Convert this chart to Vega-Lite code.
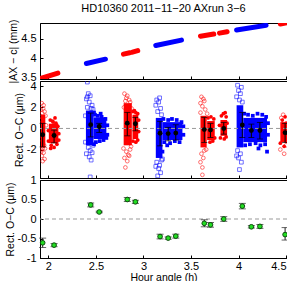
{
  "$schema": "https://vega.github.io/schema/vega-lite/v6.json",
  "padding": {"left": 4, "top": 2, "right": 2, "bottom": 1},
  "spacing": 2,
  "bounds": "flush",
  "config": {
    "font": "Liberation Sans",
    "view": {"stroke": "#000", "strokeWidth": 1},
    "axis": {"labelFont": "Liberation Sans", "labelFontSize": 11, "labelColor": "#000", "titleFont": "Liberation Sans", "titleFontSize": 10.5, "titleFontWeight": "normal", "titleColor": "#000", "titlePadding": 2, "domainColor": "#000", "tickColor": "#000", "tickSize": -3, "labelPadding": 7, "grid": false, "labelOverlap": false, "labelSeparation": -100},
    "title": {"font": "Liberation Sans", "fontSize": 11, "fontWeight": "normal", "color": "#000"}
  },
  "datasets": {
    "seg": [
      {"s": 1, "g": "R", "x": 1.915, "y": 3.47}, {"s": 1, "g": "R", "x": 2.1, "y": 3.61},
      {"s": 2, "g": "B", "x": 2.4, "y": 3.86}, {"s": 2, "g": "B", "x": 2.6, "y": 3.97},
      {"s": 3, "g": "R", "x": 2.79, "y": 4.1}, {"s": 3, "g": "R", "x": 2.855, "y": 4.135},
      {"s": 4, "g": "R", "x": 2.885, "y": 4.15}, {"s": 4, "g": "R", "x": 2.94, "y": 4.19},
      {"s": 5, "g": "B", "x": 3.13, "y": 4.32}, {"s": 5, "g": "B", "x": 3.4, "y": 4.46},
      {"s": 6, "g": "R", "x": 3.6, "y": 4.56}, {"s": 6, "g": "R", "x": 3.74, "y": 4.615},
      {"s": 7, "g": "R", "x": 3.8, "y": 4.64}, {"s": 7, "g": "R", "x": 3.88, "y": 4.675},
      {"s": 8, "g": "B", "x": 3.98, "y": 4.72}, {"s": 8, "g": "B", "x": 4.29, "y": 4.84},
      {"s": 9, "g": "R", "x": 4.44, "y": 4.875}, {"s": 9, "g": "R", "x": 4.52, "y": 4.91}
    ],
    "core": [
      {"g": "R", "x": 1.922, "x2": 1.968, "y": -1.8, "y2": 1.3},
      {"g": "R", "x": 2.005, "x2": 2.105, "y": -1.4, "y2": 0.45},
      {"g": "B", "x": 2.395, "x2": 2.475, "y": -1.6, "y2": 1.7},
      {"g": "B", "x": 2.475, "x2": 2.61, "y": -1.0, "y2": 1.05},
      {"g": "R", "x": 2.792, "x2": 2.878, "y": -1.6, "y2": 2.4},
      {"g": "R", "x": 2.885, "x2": 2.945, "y": -1.0, "y2": 1.3},
      {"g": "B", "x": 3.13, "x2": 3.2, "y": -2.8, "y2": 1.0},
      {"g": "B", "x": 3.2, "x2": 3.41, "y": -1.1, "y2": 0.6},
      {"g": "R", "x": 3.6, "x2": 3.665, "y": -1.8, "y2": 1.2},
      {"g": "R", "x": 3.67, "x2": 3.75, "y": -1.1, "y2": 0.7},
      {"g": "R", "x": 3.81, "x2": 3.88, "y": -0.7, "y2": 0.8},
      {"g": "B", "x": 3.98, "x2": 4.05, "y": -1.8, "y2": 2.2},
      {"g": "B", "x": 4.05, "x2": 4.3, "y": -1.3, "y2": 1.0},
      {"g": "R", "x": 4.44, "x2": 4.51, "y": -1.3, "y2": 0.6}
    ],
    "pts": [
      {"g": "R", "f": "o", "x": [1.93, 1.95, 1.92, 1.96, 1.935, 1.97, 1.92, 1.95, 1.93, 1.96, 1.925, 1.965, 1.94, 1.975, 1.918, 1.918, 1.945, 1.93, 1.955, 1.94], "y": [2.4, 2.2, 1.8, 1.6, 1.45, 1.2, -2.0, -2.3, -2.6, -2.9, -2.2, -1.9, -3.1, 0.3, 0.8, -1.0, 1.9, 1.1, -1.6, -1.9]},
      {"g": "R", "f": "f", "x": [2.02, 2.05, 2.08, 2.1, 2.11, 2.0, 2.03, 2.06, 2.09, 2.0, 2.11, 2.045, 2.07, 2.025], "y": [0.8, 0.6, 0.5, 0.2, -0.5, -0.2, -1.6, -1.8, -1.5, -1.2, -1.1, 0.7, 1.0, -1.9]},
      {"g": "B", "f": "o", "x": [2.41, 2.42, 2.44, 2.4, 2.43, 2.46, 2.41, 2.45, 2.42, 2.44, 2.4, 2.43, 2.46, 2.44, 2.47, 2.39, 2.39, 2.41, 2.45, 2.47], "y": [4.4, 3.3, 3.1, 2.8, 2.5, 2.2, 2.0, 1.9, -1.8, -2.1, -2.4, -2.7, -2.3, -4.6, -1.6, -1.3, 1.2, 3.0, -3.0, 1.8]},
      {"g": "B", "f": "f", "x": [2.49, 2.52, 2.56, 2.6, 2.62, 2.62, 2.5, 2.54, 2.58, 2.61, 2.55, 2.48, 2.48], "y": [1.3, 1.2, 1.1, 0.9, 0.3, -0.6, -1.3, -1.2, -1.1, -0.9, 1.4, 1.5, -1.5]},
      {"g": "R", "f": "o", "x": [2.8, 2.83, 2.82, 2.85, 2.81, 2.86, 2.79, 2.82, 2.84, 2.8, 2.83, 2.86, 2.81, 2.87, 2.795, 2.875, 2.85], "y": [3.3, 3.1, 2.9, 2.7, 2.6, 2.5, -1.9, -2.2, -2.5, -2.8, -3.1, -2.0, -3.7, -1.7, 2.0, 1.9, -2.6]},
      {"g": "R", "f": "f", "x": [2.89, 2.92, 2.94, 2.95, 2.95, 2.89, 2.92, 2.94, 2.905], "y": [1.6, 1.5, 1.4, 0.8, -0.3, -1.2, -1.3, -1.1, 1.7]},
      {"g": "B", "f": "o", "x": [3.14, 3.16, 3.13, 3.18, 3.15, 3.19, 3.14, 3.17, 3.16, 3.18, 3.15, 3.19, 3.13, 3.17, 3.2], "y": [2.7, 2.5, 2.2, 1.9, 1.6, 1.3, -3.2, -3.5, -3.8, -4.2, -4.5, -3.0, -3.6, 2.9, -2.9]},
      {"g": "B", "f": "f", "x": [3.21, 3.26, 3.3, 3.35, 3.4, 3.42, 3.42, 3.22, 3.28, 3.33, 3.38, 3.25, 3.2], "y": [0.9, 0.8, 0.9, 0.8, 0.6, 0.2, -0.6, -1.3, -1.4, -1.2, -1.3, -1.6, -2.2]},
      {"g": "R", "f": "o", "x": [3.61, 3.63, 3.6, 3.62, 3.65, 3.6, 3.64, 3.61, 3.63, 3.6, 3.62, 3.66, 3.62, 3.64, 3.67], "y": [3.0, 2.8, 2.4, 2.1, 1.8, 1.5, -2.1, -2.4, -2.8, -3.2, -3.7, -2.0, -4.4, 2.6, 1.4]},
      {"g": "R", "f": "f", "x": [3.68, 3.71, 3.74, 3.75, 3.7, 3.73, 3.82, 3.84, 3.87, 3.88, 3.8, 3.81, 3.85, 3.87, 3.86], "y": [1.0, 1.1, 0.9, -0.9, -1.3, -1.2, 1.2, 1.4, 1.1, 0.5, 0.3, -0.9, -1.0, -0.8, 1.5]},
      {"g": "B", "f": "o", "x": [3.99, 4.0, 4.02, 3.98, 4.01, 4.04, 3.99, 4.02, 4.0, 4.03, 3.98, 4.01, 4.03], "y": [4.1, 3.6, 3.3, 3.0, 2.7, 2.5, -2.1, -2.4, -2.8, -3.2, -2.6, -3.9, 3.9]},
      {"g": "B", "f": "f", "x": [4.06, 4.1, 4.15, 4.2, 4.25, 4.29, 4.31, 4.31, 4.07, 4.12, 4.18, 4.23, 4.28, 4.3, 4.21], "y": [1.4, 1.3, 1.2, 1.4, 1.3, 1.1, 0.5, -0.6, -1.6, -1.5, -1.4, -1.6, -1.5, -2.2, -1.9]},
      {"g": "R", "f": "o", "x": [4.45, 4.47, 4.5, 4.44, 4.48], "y": [1.0, 1.3, -1.6, -2.0, -2.4]},
      {"g": "R", "f": "f", "x": [4.46, 4.49, 4.5, 4.44, 4.48, 4.5], "y": [0.8, 1.1, 0.5, -1.4, -1.7, -1.2]}
    ],
    "means": [
      {"x": 1.94, "m2": -0.6, "lo2": -1.75, "hi2": 0.48, "m3": -0.61, "lo3": -0.73, "hi3": -0.49},
      {"x": 2.06, "m2": -0.67, "lo2": -1.37, "hi2": -0.16, "m3": -0.67, "lo3": -0.71, "hi3": -0.63},
      {"x": 2.445, "m2": 0.36, "lo2": -0.8, "hi2": 1.46, "m3": 0.36, "lo3": 0.31, "hi3": 0.41},
      {"x": 2.535, "m2": 0.18, "lo2": -0.38, "hi2": 0.48, "m3": 0.18, "lo3": 0.16, "hi3": 0.2},
      {"x": 2.83, "m2": 0.5, "lo2": -0.7, "hi2": 1.52, "m3": 0.5, "lo3": 0.45, "hi3": 0.55},
      {"x": 2.915, "m2": 0.44, "lo2": -0.22, "hi2": 1.05, "m3": 0.44, "lo3": 0.4, "hi3": 0.48},
      {"x": 3.175, "m2": -0.45, "lo2": -1.65, "hi2": 0.67, "m3": -0.45, "lo3": -0.51, "hi3": -0.39},
      {"x": 3.26, "m2": -0.49, "lo2": -1.17, "hi2": 0.1, "m3": -0.49, "lo3": -0.52, "hi3": -0.46},
      {"x": 3.34, "m2": -0.44, "lo2": -1.1, "hi2": 0.35, "m3": -0.44, "lo3": -0.49, "hi3": -0.39},
      {"x": 3.64, "m2": -0.11, "lo2": -1.33, "hi2": 1.05, "m3": -0.11, "lo3": -0.2, "hi3": -0.02},
      {"x": 3.705, "m2": -0.15, "lo2": -0.86, "hi2": 0.48, "m3": -0.15, "lo3": -0.21, "hi3": -0.09},
      {"x": 3.845, "m2": 0.0, "lo2": -0.54, "hi2": 0.57, "m3": 0.0, "lo3": -0.06, "hi3": 0.06},
      {"x": 4.04, "m2": 0.33, "lo2": -0.86, "hi2": 1.52, "m3": 0.33, "lo3": 0.26, "hi3": 0.4},
      {"x": 4.135, "m2": -0.2, "lo2": -0.86, "hi2": 0.41, "m3": -0.2, "lo3": -0.23, "hi3": -0.17},
      {"x": 4.225, "m2": -0.19, "lo2": -1.0, "hi2": 0.57, "m3": -0.19, "lo3": -0.24, "hi3": -0.14},
      {"x": 4.49, "m2": -0.4, "lo2": -1.33, "hi2": 0.48, "m3": -0.4, "lo3": -0.54, "hi3": -0.22}
    ]
  },
  "vconcat": [
    {
      "width": 247,
      "height": 56,
      "title": {"text": "HD10360 2011−11−20  AXrun 3−6", "anchor": "middle", "offset": 5},
      "data": {"name": "seg"},
      "mark": {"type": "line", "strokeWidth": 5, "strokeCap": "round", "clip": true},
      "encoding": {
        "x": {"field": "x", "type": "quantitative", "scale": {"domain": [1.912, 4.51], "nice": false, "zero": false}, "axis": {"values": [2, 2.5, 3, 3.5, 4, 4.5], "labels": false, "title": null}},
        "y": {"field": "y", "type": "quantitative", "scale": {"domain": [3.46, 4.9], "nice": false, "zero": false}, "axis": {"values": [3.5, 4, 4.5], "format": "~g", "labelOverlap": false, "title": "|AX − c| (mm)"}},
        "detail": {"field": "s"},
        "color": {"field": "g", "type": "nominal", "scale": {"domain": ["R", "B"], "range": ["#ff0000", "#0000ff"]}, "legend": null}
      }
    },
    {
      "width": 247,
      "height": 97,
      "encoding": {
        "x": {"field": "x", "type": "quantitative", "scale": {"domain": [1.912, 4.51], "nice": false, "zero": false}, "axis": {"values": [2, 2.5, 3, 3.5, 4, 4.5], "labels": false, "title": null}}
      },
      "layer": [
        {
          "data": {"name": "core"},
          "mark": {"type": "rect", "clip": true},
          "encoding": {
            "x2": {"field": "x2"},
            "y": {"field": "y", "type": "quantitative", "scale": {"domain": [-4.7, 4.5], "nice": false, "zero": false}, "axis": {"values": [-2, 0, 2, 4], "format": "~g", "labelOverlap": false, "labelExpr": "replace(datum.label, '−', '-')", "title": "Rect. O−C (μm)"}},
            "y2": {"field": "y2"},
            "color": {"field": "g", "type": "nominal", "scale": {"domain": ["R", "B"], "range": ["#ff0000", "#0000ff"]}, "legend": null}
          }
        },
        {
          "data": {"name": "pts"},
          "transform": [{"flatten": ["x", "y"]}, {"filter": "datum.f == 'o'"}],
          "mark": {"type": "point", "filled": false, "size": 14, "strokeWidth": 0.8, "clip": true},
          "encoding": {
            "y": {"field": "y", "type": "quantitative", "axis": {"values": [-2, 0, 2, 4], "format": "~g", "labelOverlap": false, "labelExpr": "replace(datum.label, '−', '-')", "title": "Rect. O−C (μm)"}},
            "color": {"field": "g", "type": "nominal", "legend": null},
            "shape": {"field": "g", "type": "nominal", "scale": {"domain": ["R", "B"], "range": ["circle", "square"]}, "legend": null}
          }
        },
        {
          "data": {"name": "pts"},
          "transform": [{"flatten": ["x", "y"]}, {"filter": "datum.f == 'f'"}],
          "mark": {"type": "point", "filled": true, "opacity": 1, "size": 14, "clip": true},
          "encoding": {
            "y": {"field": "y", "type": "quantitative", "axis": {"values": [-2, 0, 2, 4], "format": "~g", "labelOverlap": false, "labelExpr": "replace(datum.label, '−', '-')", "title": "Rect. O−C (μm)"}},
            "color": {"field": "g", "type": "nominal", "legend": null},
            "shape": {"field": "g", "type": "nominal", "legend": null}
          }
        },
        {
          "data": {"values": [{}]},
          "mark": {"type": "rule", "color": "#999999", "strokeDash": [4, 3], "strokeWidth": 1},
          "encoding": {"y": {"datum": 0, "type": "quantitative", "axis": {"values": [-2, 0, 2, 4], "format": "~g", "labelOverlap": false, "labelExpr": "replace(datum.label, '−', '-')", "title": "Rect. O−C (μm)"}}, "x": null}
        },
        {
          "data": {"name": "means"},
          "mark": {"type": "rule", "color": "#000", "strokeWidth": 1},
          "encoding": {"y": {"field": "lo2", "type": "quantitative", "axis": {"values": [-2, 0, 2, 4], "format": "~g", "labelOverlap": false, "labelExpr": "replace(datum.label, '−', '-')", "title": "Rect. O−C (μm)"}}, "y2": {"field": "hi2"}}
        },
        {
          "data": {"name": "means"},
          "mark": {"type": "tick", "orient": "horizontal", "size": 6, "thickness": 1, "color": "#000"},
          "encoding": {"y": {"field": "lo2", "type": "quantitative", "axis": {"values": [-2, 0, 2, 4], "format": "~g", "labelOverlap": false, "labelExpr": "replace(datum.label, '−', '-')", "title": "Rect. O−C (μm)"}}}
        },
        {
          "data": {"name": "means"},
          "mark": {"type": "tick", "orient": "horizontal", "size": 6, "thickness": 1, "color": "#000"},
          "encoding": {"y": {"field": "hi2", "type": "quantitative", "axis": {"values": [-2, 0, 2, 4], "format": "~g", "labelOverlap": false, "labelExpr": "replace(datum.label, '−', '-')", "title": "Rect. O−C (μm)"}}}
        },
        {
          "data": {"name": "means"},
          "mark": {"type": "point", "shape": "circle", "filled": true, "opacity": 1, "size": 24, "color": "#000"},
          "encoding": {"y": {"field": "m2", "type": "quantitative", "axis": {"values": [-2, 0, 2, 4], "format": "~g", "labelOverlap": false, "labelExpr": "replace(datum.label, '−', '-')", "title": "Rect. O−C (μm)"}}}
        }
      ]
    },
    {
      "width": 247,
      "height": 78,
      "data": {"name": "means"},
      "encoding": {
        "x": {"field": "x", "type": "quantitative", "scale": {"domain": [1.912, 4.51], "nice": false, "zero": false}, "axis": {"values": [2, 2.5, 3, 3.5, 4, 4.5], "format": "~g", "labelOverlap": false, "labelPadding": 5, "title": "Hour angle (h)", "titlePadding": 1}}
      },
      "layer": [
        {
          "data": {"values": [{}]},
          "mark": {"type": "rule", "color": "#999999", "strokeDash": [4, 3], "strokeWidth": 1},
          "encoding": {"y": {"datum": 0, "type": "quantitative", "scale": {"domain": [-1, 1], "nice": false, "zero": false}, "axis": {"values": [-1, -0.5, 0, 0.5, 1], "format": "~g", "labelOverlap": false, "labelExpr": "replace(datum.label, '−', '-')", "title": "Rect. O−C (μm)"}}, "x": null}
        },
        {
          "mark": {"type": "rule", "color": "#222", "strokeWidth": 1},
          "encoding": {"y": {"field": "lo3", "type": "quantitative", "axis": {"values": [-1, -0.5, 0, 0.5, 1], "format": "~g", "labelOverlap": false, "labelExpr": "replace(datum.label, '−', '-')", "title": "Rect. O−C (μm)"}}, "y2": {"field": "hi3"}}
        },
        {
          "mark": {"type": "tick", "orient": "horizontal", "size": 7, "thickness": 1, "color": "#222"},
          "encoding": {"y": {"field": "lo3", "type": "quantitative", "axis": {"values": [-1, -0.5, 0, 0.5, 1], "format": "~g", "labelOverlap": false, "labelExpr": "replace(datum.label, '−', '-')", "title": "Rect. O−C (μm)"}}}
        },
        {
          "mark": {"type": "tick", "orient": "horizontal", "size": 7, "thickness": 1, "color": "#222"},
          "encoding": {"y": {"field": "hi3", "type": "quantitative", "axis": {"values": [-1, -0.5, 0, 0.5, 1], "format": "~g", "labelOverlap": false, "labelExpr": "replace(datum.label, '−', '-')", "title": "Rect. O−C (μm)"}}}
        },
        {
          "mark": {"type": "point", "shape": "circle", "filled": true, "opacity": 1, "size": 22, "color": "#22dd22", "stroke": "#0d4d0d", "strokeWidth": 1},
          "encoding": {"y": {"field": "m3", "type": "quantitative", "axis": {"values": [-1, -0.5, 0, 0.5, 1], "format": "~g", "labelOverlap": false, "labelExpr": "replace(datum.label, '−', '-')", "title": "Rect. O−C (μm)"}}}
        }
      ]
    }
  ]
}
